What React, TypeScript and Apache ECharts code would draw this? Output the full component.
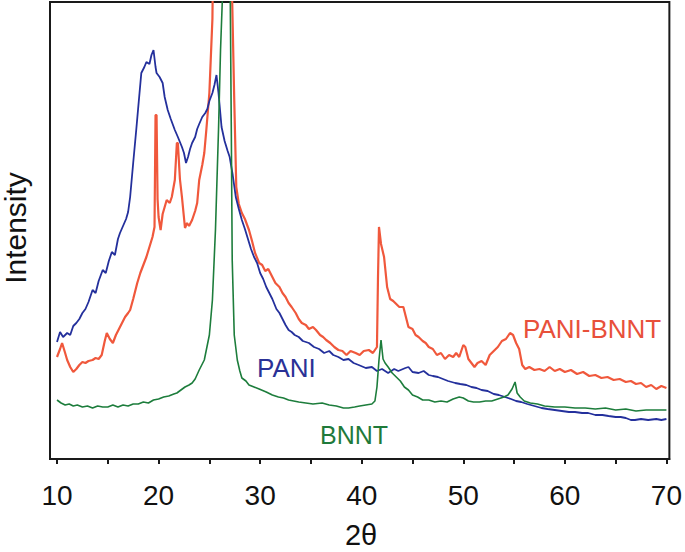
import { useEffect, useRef } from "react";
import * as echarts from "echarts";

const xTickValues = [10, 15, 20, 25, 30, 35, 40, 45, 50, 55, 60, 65, 70];
const xLabelValues = [10, 20, 30, 40, 50, 60, 70];
const seriesNames = ["PANI-BNNT", "PANI", "BNNT"];
const axisTitles = ["2θ", "Intensity"];

// [2θ, intensity (arbitrary units)]
const paniBnnt: number[][] = [
  [10.0, 102], [10.3, 110], [10.5, 116], [10.8, 106], [11.0, 99], [11.3, 92], [11.6, 87], [11.9, 90],
  [12.2, 94], [12.5, 97], [12.8, 96], [13.1, 98], [13.5, 99], [13.8, 101], [14.1, 100], [14.4, 104],
  [14.7, 118], [14.9, 126], [15.2, 120], [15.5, 116], [15.8, 124], [16.1, 130], [16.4, 136], [16.7, 142],
  [17.0, 146], [17.2, 149], [17.5, 160], [17.9, 176], [18.2, 186], [18.5, 194], [18.8, 202], [19.1, 212],
  [19.4, 222], [19.6, 232], [19.7, 344], [19.8, 344], [19.9, 260], [20.0, 242], [20.2, 229], [20.4, 245],
  [20.6, 252], [20.8, 259], [21.1, 256], [21.3, 262], [21.6, 279], [21.8, 316], [21.9, 316], [22.1, 280],
  [22.3, 262], [22.6, 231], [22.8, 236], [23.0, 233], [23.3, 239], [23.6, 248], [23.8, 256], [24.0, 279],
  [24.3, 294], [24.5, 306], [24.7, 329], [25.0, 366], [25.3, 440], [25.5, 620], [26.3, 900], [27.0, 640],
  [27.25, 457], [27.45, 359], [27.65, 272], [27.9, 255], [28.2, 246], [28.5, 240], [28.9, 229], [29.2, 218],
  [29.5, 206], [29.9, 196], [30.2, 194], [30.5, 188], [30.8, 190], [31.2, 182], [31.5, 176], [31.9, 172],
  [32.2, 166], [32.5, 162], [32.8, 156], [33.1, 152], [33.5, 146], [33.8, 140], [34.1, 136], [34.5, 134],
  [34.8, 130], [35.2, 132], [35.5, 129], [35.9, 124], [36.2, 122], [36.5, 119], [36.9, 116], [37.3, 112],
  [37.7, 109], [38.1, 108], [38.5, 104], [38.9, 108], [39.4, 106], [39.8, 104], [40.2, 108], [40.7, 109],
  [41.1, 106], [41.5, 112], [41.6, 180], [41.7, 232], [41.9, 215], [42.2, 202], [42.5, 172], [42.8, 160],
  [43.1, 158], [43.3, 156], [43.7, 152], [44.1, 152], [44.4, 140], [44.6, 132], [45.0, 130], [45.3, 124],
  [45.6, 122], [46.0, 118], [46.3, 116], [46.6, 112], [47.0, 110], [47.4, 104], [47.8, 106], [48.2, 100],
  [48.6, 104], [49.0, 102], [49.3, 106], [49.6, 102], [50.0, 114], [50.2, 112], [50.5, 100], [50.8, 96],
  [51.1, 92], [51.4, 96], [51.8, 98], [52.2, 94], [52.6, 104], [53.0, 108], [53.4, 112], [53.8, 118],
  [54.2, 120], [54.6, 126], [54.9, 124], [55.2, 116], [55.5, 110], [55.8, 94], [56.1, 90], [56.5, 92],
  [57.0, 89], [57.5, 90], [58.0, 88], [58.5, 92], [59.0, 88], [59.5, 90], [60.0, 87], [60.6, 89],
  [61.2, 85], [61.8, 87], [62.4, 83], [63.0, 84], [63.6, 81], [64.2, 82], [64.8, 79], [65.4, 80],
  [66.0, 77], [66.5, 78], [67.0, 75], [67.5, 76], [68.0, 72], [68.5, 74], [69.0, 70], [69.5, 73], [70.0, 71],
];

const pani: number[][] = [
  [10.0, 117], [10.3, 127], [10.6, 122], [11.0, 126], [11.3, 124], [11.6, 133], [11.9, 136], [12.2, 140],
  [12.5, 146], [12.8, 150], [13.1, 157], [13.5, 169], [13.8, 166], [14.1, 178], [14.5, 189], [14.8, 186],
  [15.1, 198], [15.4, 207], [15.7, 204], [16.0, 220], [16.2, 226], [16.5, 233], [16.8, 240], [17.0, 247],
  [17.2, 262], [17.5, 296], [17.8, 329], [18.0, 352], [18.3, 386], [18.6, 392], [18.8, 397], [19.1, 395],
  [19.3, 404], [19.5, 409], [19.7, 392], [19.8, 386], [20.1, 382], [20.4, 376], [20.6, 362], [20.9, 349],
  [21.2, 340], [21.6, 329], [21.9, 322], [22.3, 312], [22.5, 306], [22.7, 296], [22.9, 302], [23.1, 310],
  [23.3, 316], [23.6, 322], [23.8, 330], [24.0, 335], [24.3, 342], [24.6, 346], [24.8, 350], [25.0, 358],
  [25.3, 366], [25.5, 374], [25.7, 384], [25.9, 366], [26.2, 332], [26.5, 318], [26.8, 308], [27.0, 302],
  [27.3, 284], [27.6, 262], [27.9, 250], [28.2, 239], [28.5, 230], [28.8, 220], [29.1, 210], [29.4, 202],
  [29.7, 196], [30.0, 186], [30.3, 180], [30.6, 172], [30.9, 166], [31.2, 160], [31.6, 150], [31.9, 146],
  [32.2, 140], [32.5, 134], [32.8, 129], [33.1, 127], [33.4, 124], [33.8, 122], [34.2, 118], [34.8, 116],
  [35.3, 112], [35.8, 110], [36.3, 106], [36.8, 108], [37.2, 104], [37.7, 102], [38.2, 99], [38.7, 100],
  [39.2, 96], [39.7, 94], [40.4, 91], [41.0, 92], [41.5, 88], [42.0, 90], [42.6, 86], [43.2, 90],
  [43.6, 88], [44.3, 91], [44.6, 92], [45.0, 87], [45.6, 86], [46.1, 88], [46.6, 84], [47.0, 83],
  [47.5, 82], [48.0, 80], [48.5, 78], [49.2, 76], [49.7, 75], [50.3, 74], [50.8, 72], [51.3, 71],
  [51.8, 69], [52.4, 68], [53.0, 65], [53.5, 64], [54.1, 62], [54.7, 60], [55.2, 58], [55.7, 57],
  [56.3, 55], [57.0, 53], [57.7, 51], [58.3, 50], [59.0, 49], [59.7, 48], [60.4, 47], [61.0, 47],
  [61.7, 46], [62.3, 46], [63.0, 44], [63.7, 44], [64.3, 43], [65.0, 42], [65.5, 42], [66.0, 41],
  [66.5, 39], [66.9, 39], [67.5, 40], [68.2, 39], [69.0, 40], [69.5, 39], [70.0, 40],
];

const bnnt: number[][] = [
  [10.0, 59], [10.4, 56], [10.8, 54], [11.2, 55], [11.6, 53], [12.0, 54], [12.5, 52], [13.0, 53],
  [13.5, 51], [14.0, 53], [14.5, 52], [15.0, 52], [15.5, 54], [16.0, 52], [16.5, 54], [17.0, 53],
  [17.5, 55], [18.0, 55], [18.5, 57], [19.0, 56], [19.5, 59], [20.0, 60], [20.5, 62], [21.0, 63],
  [21.5, 65], [21.8, 66], [22.2, 69], [22.6, 72], [23.0, 74], [23.3, 76], [23.6, 80], [24.0, 89],
  [24.5, 99], [25.0, 124], [25.3, 159], [25.6, 229], [25.9, 329], [26.1, 409], [26.27, 457], [26.66, 800],
  [27.06, 457], [27.16, 329], [27.25, 199], [27.45, 124], [27.75, 99], [28.0, 88], [28.2, 81], [28.6, 78],
  [28.9, 74], [29.4, 72], [29.9, 70], [30.6, 67], [31.2, 64], [31.8, 62], [32.3, 61], [32.8, 59],
  [33.3, 58], [33.8, 57], [34.5, 56], [35.2, 55], [36.1, 56], [36.8, 54], [37.5, 53], [38.2, 51],
  [38.7, 51], [39.3, 52], [39.8, 53], [40.4, 54], [41.0, 55], [41.3, 58], [41.5, 72], [41.7, 99],
  [41.9, 119], [42.1, 100], [42.3, 96], [42.6, 92], [43.0, 86], [43.4, 82], [43.8, 78], [44.2, 72],
  [44.6, 69], [45.0, 64], [45.5, 62], [46.0, 59], [46.6, 59], [47.2, 57], [47.8, 58], [48.4, 57],
  [49.0, 60], [49.6, 62], [50.0, 61], [50.5, 58], [51.0, 57], [51.6, 57], [52.2, 58], [52.8, 58],
  [53.4, 60], [54.0, 62], [54.4, 64], [54.8, 70], [55.1, 77], [55.3, 66], [55.6, 62], [56.0, 58],
  [56.6, 56], [57.3, 55], [58.0, 53], [59.0, 52], [60.0, 52], [61.0, 51], [62.0, 51], [63.0, 50],
  [64.0, 51], [65.0, 49], [66.0, 50], [67.0, 48], [68.0, 49], [69.0, 49], [70.0, 49],
];

const FONT = '"Liberation Sans", Arial, Helvetica, sans-serif';
const RED = "#f0583c";
const BLUE = "#24309c";
const GREEN = "#1d7d3c";

export default function App() {
  const ref = useRef<HTMLDivElement>(null);

  useEffect(() => {
    document.body.style.margin = "0";
    const chart = echarts.init(ref.current!, null, { renderer: "svg" });
    chart.setOption({
      animation: false,
      backgroundColor: "#ffffff",
      grid: {
        show: true,
        left: 50,
        right: 13,
        top: 2,
        bottom: 93,
        borderColor: "#1a1a1a",
        borderWidth: 2,
        backgroundColor: "transparent",
      },
      xAxis: {
        type: "value",
        min: 9.31,
        max: 70.29,
        axisLine: { show: true, lineStyle: { color: "#1a1a1a", width: 2 } },
        axisTick: {
          show: true,
          inside: false,
          length: 5,
          customValues: xTickValues,
          lineStyle: { color: "#1a1a1a", width: 2 },
        },
        axisLabel: {
          customValues: xLabelValues,
          margin: 22,
          fontSize: 28,
          color: "#111111",
          fontFamily: FONT,
        },
        splitLine: { show: false },
      },
      yAxis: {
        type: "value",
        min: 0,
        max: 457,
        axisLine: { show: false },
        axisTick: { show: false },
        axisLabel: { show: false },
        splitLine: { show: false },
      },
      series: [
        {
          name: seriesNames[0],
          type: "line",
          data: paniBnnt,
          showSymbol: false,
          clip: true,
          lineStyle: { color: RED, width: 2.2 },
          z: 2,
        },
        {
          name: seriesNames[1],
          type: "line",
          data: pani,
          showSymbol: false,
          clip: true,
          lineStyle: { color: BLUE, width: 1.8 },
          z: 3,
        },
        {
          name: seriesNames[2],
          type: "line",
          data: bnnt,
          showSymbol: false,
          clip: true,
          lineStyle: { color: GREEN, width: 1.6 },
          z: 4,
        },
      ],
      graphic: [
        {
          type: "text",
          x: 257,
          y: 368,
          style: {
            text: seriesNames[1],
            fill: "#2a3196",
            fontSize: 26,
            fontFamily: FONT,
            textAlign: "left",
            textVerticalAlign: "middle",
          },
        },
        {
          type: "text",
          x: 320,
          y: 435,
          style: {
            text: seriesNames[2],
            fill: "#1f7a3a",
            fontSize: 25,
            fontFamily: FONT,
            textAlign: "left",
            textVerticalAlign: "middle",
          },
        },
        {
          type: "text",
          x: 523,
          y: 329,
          style: {
            text: seriesNames[0],
            fill: "#e8503a",
            fontSize: 26,
            fontFamily: FONT,
            textAlign: "left",
            textVerticalAlign: "middle",
          },
        },
        {
          type: "text",
          x: 361,
          y: 535,
          style: {
            text: axisTitles[0],
            fill: "#111111",
            fontSize: 29,
            fontFamily: FONT,
            textAlign: "center",
            textVerticalAlign: "middle",
          },
        },
        {
          type: "text",
          x: 15,
          y: 228,
          rotation: Math.PI / 2,
          style: {
            text: axisTitles[1],
            fill: "#111111",
            fontSize: 30,
            fontFamily: FONT,
            textAlign: "center",
            textVerticalAlign: "middle",
          },
        },
      ],
    });
    return () => chart.dispose();
  }, []);

  return <div ref={ref} style={{ width: 685, height: 552 }} />;
}
